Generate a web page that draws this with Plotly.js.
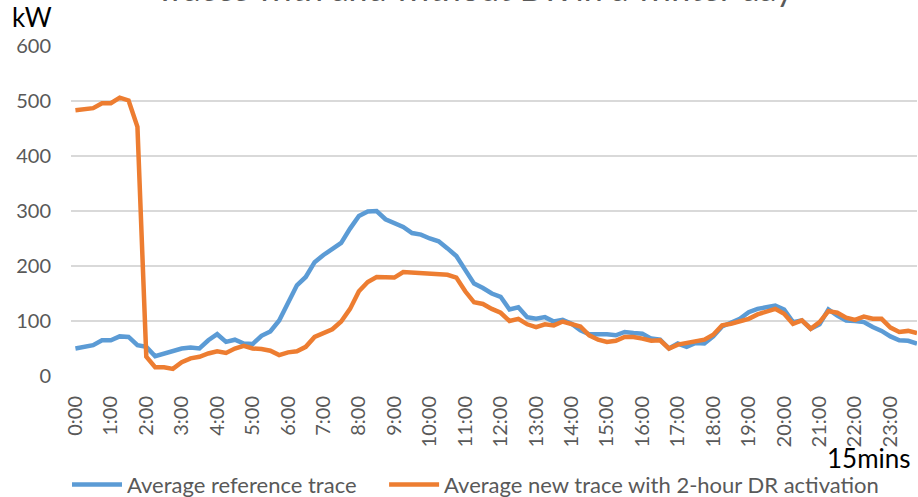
<!DOCTYPE html>
<html>
<head>
<meta charset="utf-8">
<script src="https://cdn.plot.ly/plotly-3.0.1.min.js"></script>
<style>html,body{margin:0;padding:0;background:#fff;}#chart{width:918px;height:497px;}</style>
</head>
<body>
<div id="chart"></div>
<script>
// 96 quarter-hour intervals (kW)
const hourLabels = ["0:00","1:00","2:00","3:00","4:00","5:00","6:00","7:00","8:00","9:00","10:00","11:00",
  "12:00","13:00","14:00","15:00","16:00","17:00","18:00","19:00","20:00","21:00","22:00","23:00"];

const referenceTrace = [
  50,53,56,65,65,72,71,56,53,36,41,47,50,52,50,65,76,62,66,59,
  58,73,81,101,131,165,180,207,220,230,242,268,291,299,300,285,279,271,260,257,
  250,245,232,218,193,168,160,150,144,121,125,107,104,107,99,102,95,83,76,77,
  76,74,80,78,77,68,66,50,59,53,60,59,72,90,98,104,116,122,125,128,
  121,98,101,86,94,121,110,101,100,98,89,82,72,65,64,59
];

const drTrace = [
  483,484,487,496,496,506,501,453,35,16,16,13,25,32,35,41,45,42,50,55,
  50,49,46,38,43,45,53,71,79,85,99,122,154,171,180,179,179,189,188,186,
  185,183,184,179,154,134,131,122,115,100,104,94,89,94,92,99,94,90,74,66,
  62,64,71,71,68,64,65,50,57,60,65,66,75,92,95,99,104,112,118,122,
  113,95,101,86,98,118,115,106,102,108,104,104,88,80,82,78
];

const seriesNames = ["Average reference trace\u00a0\u00a0\u00a0\u00a0", "Average new trace with 2-hour DR activation"];
const seriesColors = ["#5B9BD5", "#ED7D31"];

const idx = referenceTrace.map((_, i) => i);
const tickPositions = hourLabels.map((_, h) => h * 4);

const FONT = "Lato, 'Open Sans', sans-serif";

const traces = [
  {x: idx, y: referenceTrace, name: seriesNames[0], type: "scatter", mode: "lines",
   line: {color: seriesColors[0], width: 4.5, shape: "linear"}},
  {x: idx, y: drTrace, name: seriesNames[1], type: "scatter", mode: "lines",
   line: {color: seriesColors[1], width: 4.5, shape: "linear"}}
];

const layout = {
  width: 918, height: 497,
  margin: {l: 71, r: 1, t: 46, b: 121, pad: 0},
  paper_bgcolor: "#ffffff", plot_bgcolor: "#ffffff",
  font: {family: FONT, color: "#595959"},
  showlegend: true,
  legend: {orientation: "h", xref: "container", yref: "container",
    x: 67 / 918, xanchor: "left", y: 0.025, yanchor: "middle",
    font: {size: 22, color: "#595959", family: FONT},
    tracegroupgap: 0, itemwidth: 50},
  xaxis: {range: [-0.5, 95.0], tickvals: tickPositions, ticktext: hourLabels,
    tickangle: -90, tickfont: {size: 20, color: "#595959", family: FONT},
    showgrid: false, zeroline: false, showline: false, ticks: "",
    ticklabelstandoff: 15, fixedrange: true},
  yaxis: {range: [0, 600], dtick: 100, tick0: 0,
    tickfont: {size: 20, color: "#595959", family: FONT},
    showgrid: true, gridcolor: "#d9d9d9", gridwidth: 1.5,
    zeroline: false, showline: false, ticks: "", ticklabelstandoff: 19, fixedrange: true},
  annotations: [
    {text: "Traces with and without DR in a winter day", xref: "paper", yref: "paper",
     x: (474 - 71) / 846, xanchor: "center", y: 1, yanchor: "bottom", yshift: 36,
     showarrow: false, font: {size: 34, color: "#595959", family: FONT}},
    {text: "kW", xref: "paper", yref: "paper", x: 0, xanchor: "left", xshift: -61,
     y: 1, yanchor: "middle", yshift: 29, showarrow: false,
     font: {size: 26, color: "#000000", family: FONT}},
    {text: "15mins", xref: "paper", yref: "paper", x: 1, xanchor: "right", xshift: -4,
     y: 0, yanchor: "middle", yshift: -82, showarrow: false,
     font: {size: 26, color: "#000000", family: FONT}}
  ]
};

Plotly.newPlot("chart", traces, layout, {displayModeBar: false, staticPlot: true});
</script>
</body>
</html>
